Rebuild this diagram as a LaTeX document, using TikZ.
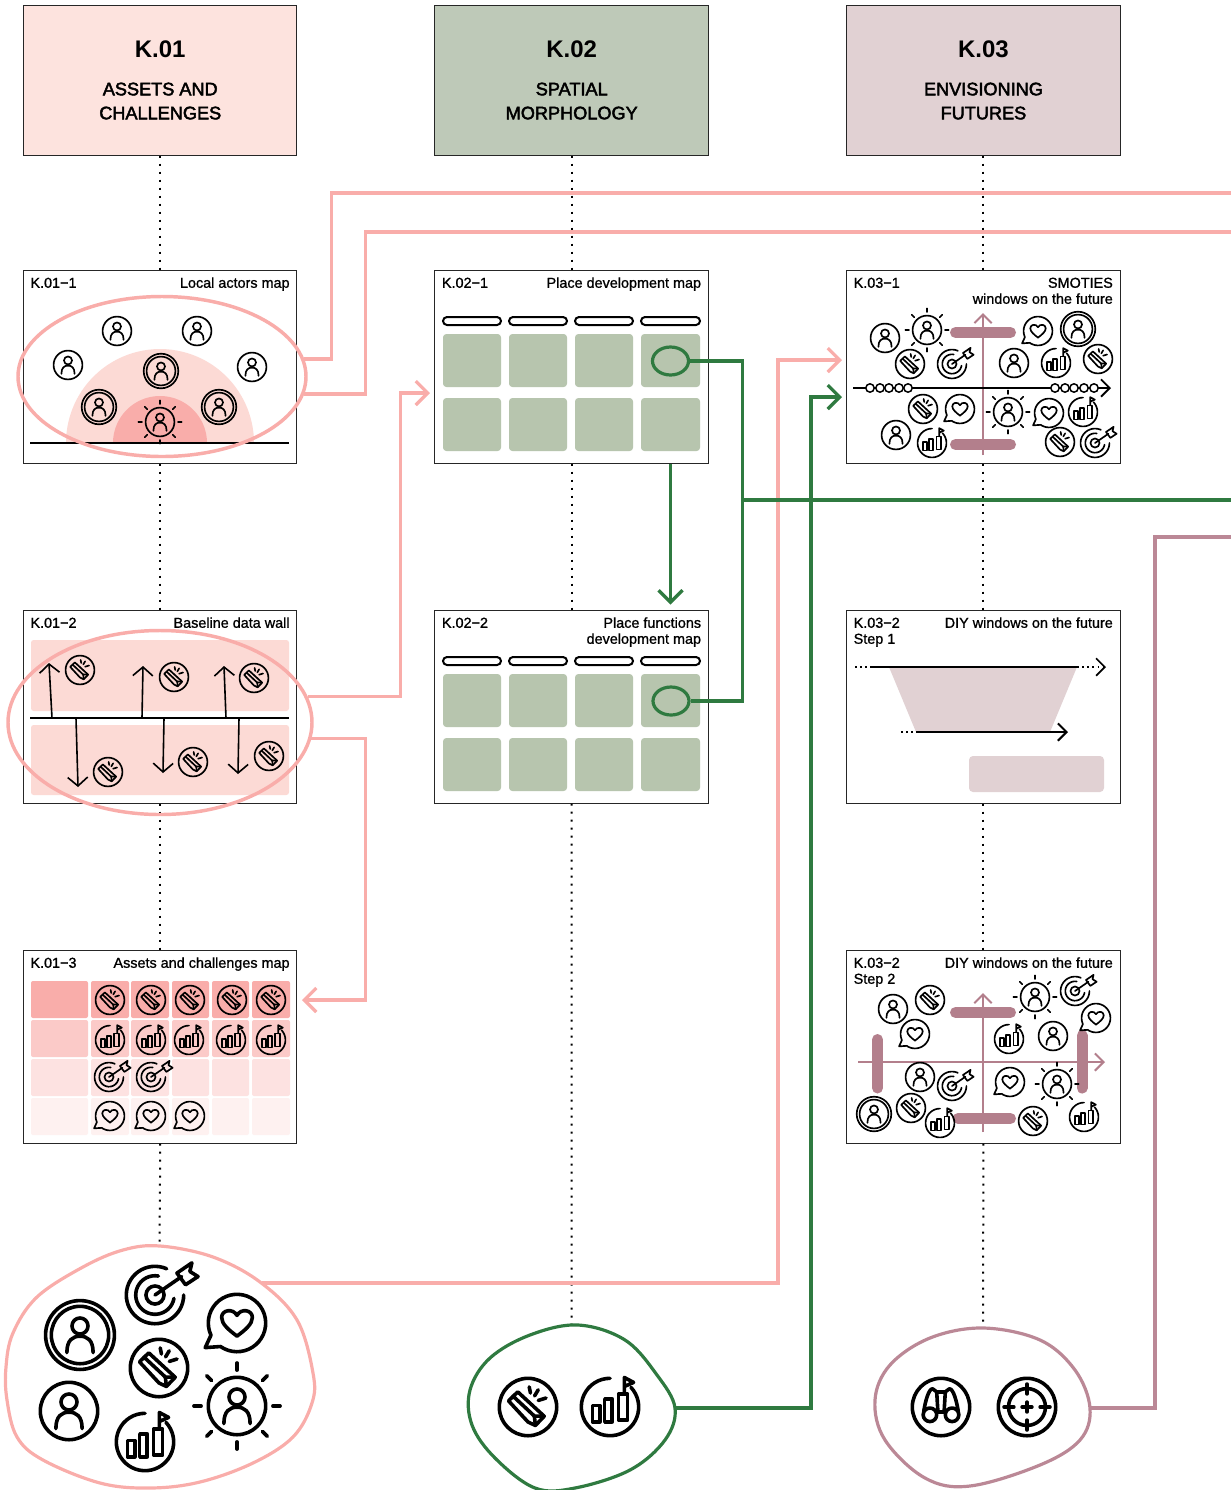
\documentclass[tikz,border=0pt]{standalone}
\usepackage{fontspec}
\setmainfont{Liberation Sans}
\newfontfamily\headfamily[FakeBold=2.5]{Liberation Sans}
\newfontfamily\cardfamily[FakeBold=1]{Liberation Sans}
\usetikzlibrary{arrows.meta, positioning, shapes.geometric}

\definecolor{assetpale}{HTML}{FDE3DE}
\definecolor{assetsoft}{HTML}{FCDAD5}
\definecolor{assetdeep}{HTML}{F9ADAA}
\definecolor{morphpale}{HTML}{BEC9B8}
\definecolor{morphcell}{HTML}{B7C5AE}
\definecolor{morphline}{HTML}{2F7A40}
\definecolor{futurepale}{HTML}{E1D1D3}
\definecolor{futureline}{HTML}{BB8896}
\definecolor{futurebar}{HTML}{B37F8C}

\newcommand{\headtag}[1]{{\rmfamily\bfseries\fontsize{18}{18}\selectfont #1}}
\newcommand{\iconset}[2]{\foreach \px/\py in {#2} {\pic[smallicon] at (\px,\py) {#1};}}
\newcommand{\cardlabels}[3]{%
  \node[cardid, below right=5.5pt and 5.4pt of #1.north west] (#1id) {\rule{0pt}{8pt}#2};
  \node[cardname, below left=5.5pt and 5.7pt of #1.north east] (#1name) {\rule{0pt}{8pt}#3};}
\newcommand{\personmark}{%
  \draw[iconline] (0,0) circle[radius=14];
  \draw[iconline] (0,-4.4) circle[radius=3.9];
  \draw[iconline] (-6.4,8.6) .. controls (-6.4,2.5) and (-3.6,0.6) .. (0,0.6) .. controls (3.6,0.6) and (6.4,2.5) .. (6.4,8.6);}

\begin{document}
\begin{tikzpicture}[
    x=0.75pt, y=-0.75pt,
    headbox/.style={
        draw=black!85,
        line width=0.75pt,
        minimum width=205.1pt,
        minimum height=112.5pt,
        align=center,
        font=\headfamily\fontsize{13.6}{18}\selectfont
    },
    cardbox/.style={
        draw=black!85,
        fill=white,
        line width=0.75pt,
        minimum width=205.1pt,
        minimum height=144.75pt
    },
    cardid/.style={inner sep=0pt, align=left, font=\cardfamily\fontsize{10.8}{12}\selectfont},
    cardname/.style={inner sep=0pt, align=right, font=\cardfamily\fontsize{10.8}{12}\selectfont},
    dotline/.style={line width=1.5pt, dash pattern=on 1.5pt off 4.5pt},
    pinkline/.style={draw=assetdeep, line width=2.4pt},
    greenline/.style={draw=morphline, line width=2.4pt},
    mauveline/.style={draw=futureline, line width=2.4pt},
    bigtip/.style={-{Straight Barb[length=9pt, width=18pt]}},
    smalltip/.style={-{Straight Barb[length=6.5pt, width=13pt]}},
    pinkoval/.style={ellipse, draw=assetdeep, line width=2.6pt, inner sep=0pt},
    greenspot/.style={ellipse, draw=morphline, line width=2.4pt, inner sep=0pt, minimum width=27pt, minimum height=21pt},
    groundline/.style={line width=1.9pt},
    thinarrow/.style={line width=1.2pt, -{Straight Barb[length=6.5pt, width=15pt]}},
    mauveaxis/.style={draw=futurebar, line width=1.5pt, smalltip},
    mauvebar/.style={draw=futurebar, line width=8.25pt, line cap=round},
    iconline/.style={line cap=round, line join=round},
    smallicon/.style={scale=1.03, line width=1.25pt},
    bigicon/.style={scale=2.05, line width=2.7pt},
    iconperson/.pic={\personmark},
    iconbold/.pic={
        \personmark
        \draw[iconline] (0,0) circle[radius=16.8];
    },
    iconsun/.pic={
        \personmark
        \foreach \ang in {0,45,...,315} {\draw[iconline] (\ang:17.5) -- (\ang:21);}
    },
    icongold/.pic={
        \draw[iconline] (0,0) circle[radius=14];
        \draw[iconline] (-9.5,-3) -- (-5,-7.4) -- (7.9,4.5) -- (3.6,9) -- (0,7.3) -- cycle;
        \draw[iconline] (-7.3,-5.3) -- (3.1,4.4) -- (7.9,4.5);
        \draw[iconline] (3.1,4.4) -- (3.6,9);
        \draw[iconline] (0.6,-9.8) -- (1.2,-6.8);
        \draw[iconline] (5,-8.4) -- (3.2,-5.4);
        \draw[iconline] (8.8,-4.4) -- (5,-3.2);
    },
    iconchart/.pic={
        \draw[iconline] plot[domain=-43:270, samples=40, smooth] ({14*cos(\x)},{14*sin(\x)});
        \draw[iconline] (-8.5,-0.8) rectangle (-5,7.2);
        \draw[iconline] (-2.6,-4) rectangle (1.1,7.2);
        \draw[iconline] (4.2,-6.4) rectangle (8.6,6.4);
        \draw[iconline] (7,-6.4) -- (7,-14.4) -- (11.5,-12) -- (7,-10);
    },
    icontarget/.pic={
        \draw[iconline] plot[domain=0:294, samples=40, smooth] ({14*cos(\x)},{14*sin(\x)});
        \draw[iconline] plot[domain=10:280, samples=30, smooth] ({9.4*cos(\x)},{9.4*sin(\x)});
        \draw[iconline] (0,0) circle[radius=4.4];
        \draw[iconline] (0,0) -- (13,-9);
        \draw[iconline] (10.7,-10.7) -- (18,-15.7) -- (17,-11.5) -- (21,-9) -- (14.9,-5) -- cycle;
    },
    iconheart/.pic={
        \draw[iconline] plot[domain=125:-205, samples=40, smooth] ({14*cos(\x)},{14*sin(\x)}) -- (-15.5,12) -- cycle;
        \draw[iconline] (0,6.4) .. controls (-4,3.4) and (-7.5,0.5) .. (-7.5,-2.7) .. controls (-7.5,-6.4) and (-2,-7.4) .. (0,-3.7) .. controls (2,-7.4) and (7.5,-6.4) .. (7.5,-2.7) .. controls (7.5,0.5) and (4,3.4) .. (0,6.4) -- cycle;
    },
    iconbino/.pic={
        \draw[iconline] (0,0) circle[radius=14];
        \draw[iconline] (-5.4,3.8) circle[radius=3.3];
        \draw[iconline] (5.4,3.8) circle[radius=3.3];
        \draw[iconline] (-8.4,2) .. controls (-7.6,-3) and (-6,-8.9) .. (-4.1,-8.9) -- (-2.1,-7.4) -- (-1.5,2.5);
        \draw[iconline] (8.4,2) .. controls (7.6,-3) and (6,-8.9) .. (4.1,-8.9) -- (2.1,-7.4) -- (1.5,2.5);
        \draw[iconline] (-2.1,-7.4) -- (2.1,-7.4);
        \draw[iconline] (-1.5,2.5) -- (1.5,2.5);
    },
    iconcross/.pic={
        \draw[iconline] (0,0) circle[radius=14];
        \draw[iconline] (0,0) circle[radius=9];
        \foreach \ang in {0,90,180,270} {\draw[iconline] (\ang:6.4) -- (\ang:11.2);}
        \draw[iconline] (-2.4,0) -- (2.4,0);
        \draw[iconline] (0,-2.4) -- (0,2.4);
    }
]
\useasboundingbox (0,0) rectangle (1231,1490);

\node[headbox, fill=assetpale] (k01) at (160.25,80) {\headtag{K.01}\\[10.5pt] ASSETS AND\\CHALLENGES};
\node[headbox, fill=morphpale, right=102.75pt of k01] (k02) {\headtag{K.02}\\[10.5pt] SPATIAL\\MORPHOLOGY};
\node[headbox, fill=futurepale, right=102.95pt of k02] (k03) {\headtag{K.03}\\[10.5pt] ENVISIONING\\FUTURES};

\node[cardbox, below=85.5pt of k01] (k011) {};
\node[cardbox, below=109.5pt of k011] (k012) {};
\node[cardbox, below=109.5pt of k012] (k013) {};
\node[cardbox, below=85.5pt of k02] (k021) {};
\node[cardbox, below=109.5pt of k021] (k022) {};
\node[cardbox, below=85.5pt of k03] (k031) {};
\node[cardbox, below=109.5pt of k031] (k032) {};
\node[cardbox, below=109.5pt of k032] (k033) {};

\cardlabels{k011}{K.01−1}{Local actors map}
\cardlabels{k012}{K.01−2}{Baseline data wall}
\cardlabels{k013}{K.01−3}{Assets and challenges map}
\cardlabels{k021}{K.02−1}{Place development map}
\cardlabels{k022}{K.02−2}{Place functions\\development map}
\cardlabels{k031}{K.03−1}{SMOTIES\\windows on the future}
\cardlabels{k032}{K.03−2\\Step 1}{DIY windows on the future}
\cardlabels{k033}{K.03−2\\Step 2}{DIY windows on the future}

\coordinate (assetblobout) at (262,1283);
\coordinate (assetblobtop) at (159.5,1246);
\coordinate (morphblobout) at (675,1408);
\coordinate (morphblobtop) at (571.5,1325);
\coordinate (futureblobout) at (1090,1408);
\coordinate (futureblobtop) at (983,1328);
\coordinate (k021in) at (430,393);
\coordinate (k013in) at (302,1000);
\coordinate (k031ina) at (842,360);
\coordinate (k031inb) at (842,397);
\coordinate (pinkexita) at (1231,193);
\coordinate (pinkexitb) at (1231,232);
\coordinate (greenjoin) at (743,500);
\coordinate (greenexit) at (1231,500);
\coordinate (mauveexit) at (1231,537);

\draw[dotline] (k01.south) -- (k011.north);
\draw[dotline] (k011.south) -- (k012.north);
\draw[dotline] (k012.south) -- (k013.north);
\draw[dotline] (k013.south) -- (assetblobtop);
\draw[dotline] (k02.south) -- (k021.north);
\draw[dotline] (k021.south) -- (k022.north);
\draw[dotline] (k022.south) -- (morphblobtop);
\draw[dotline] (k03.south) -- (k031.north);
\draw[dotline] (k031.south) -- (k032.north);
\draw[dotline] (k032.south) -- (k033.north);
\draw[dotline] (k033.south) -- (futureblobtop);

\fill[assetsoft] plot[domain=180:360, samples=60] ({160+94*cos(\x)},{443+94*sin(\x)}) -- cycle;
\fill[assetdeep] plot[domain=180:360, samples=60] ({160+47*cos(\x)},{443+47*sin(\x)}) -- cycle;
\draw[groundline] (30,443) -- (289,443);
\iconset{iconperson}{117/331,197/331,68/365,252/367}
\iconset{iconbold}{161/371,99/407,219/407}
\iconset{iconsun}{160/422}

\fill[assetsoft, rounded corners=2pt] (31,640) rectangle (289,711);
\fill[assetsoft, rounded corners=2pt] (31,725) rectangle (289,795);
\draw[groundline] (30,718) -- (289,718);
\foreach \ax/\bx/\ey in {52/49/663,142/143/666,226/224/666,76/78/787,164/163/773,239/238/774} {
    \draw[thinarrow] (\ax,718) -- (\bx,\ey);
}
\iconset{icongold}{80/670,174/677,254/678,108/772,193/762,269/756}

\foreach \ya/\yb/\tone in {981/1018/100,1020/1057/65,1059/1096/35,1098/1135/17} {
    \fill[assetdeep!\tone!white, rounded corners=1.5pt] (31,\ya) rectangle (88,\yb);
    \foreach \xa/\xb in {91/129,131/169,172/209,212/249,252/290} {
        \fill[assetdeep!\tone!white, rounded corners=1.5pt] (\xa,\ya) rectangle (\xb,\yb);
    }
}
\iconset{icongold}{110/1000,151/1000,190/1000,232/1000,271/1000}
\iconset{iconchart}{110/1040,151/1040,189/1040,231/1040,271/1040}
\iconset{icontarget}{109/1077,151/1077}
\iconset{iconheart}{110/1116,151/1116,190/1116}

\foreach \oy in {0,340} {
    \foreach \xa/\xb in {443/501,509/567,575/633,641/700} {
        \draw[line width=1.5pt, rounded corners=3pt] (\xa,317+\oy) rectangle (\xb,325+\oy);
        \fill[morphcell, rounded corners=2.5pt] (\xa,334+\oy) rectangle (\xb,387+\oy);
        \fill[morphcell, rounded corners=2.5pt] (\xa,398+\oy) rectangle (\xb,451+\oy);
    }
}
\node[greenspot] (k021spot) at (670.5,361) {};
\node[greenspot] (k022spot) at (671,701) {};

\draw[mauveaxis] (983,455) -- (983,313);
\draw[mauvebar] (955.5,332.5) -- (1010.5,332.5);
\draw[mauvebar] (955.5,444.5) -- (1010.5,444.5);
\draw[line width=1.4pt, smalltip] (853,388) -- (1111,388);
\foreach \cx in {870,880,889,899,908,1055,1065,1074,1084,1094} {
    \draw[line width=1.1pt, fill=white] (\cx,388) circle[radius=4.2];
}
\iconset{iconperson}{885/338,1014/363,896/435}
\iconset{iconsun}{927/330,1008/412}
\iconset{icongold}{910/364,1098/359,923/409,1060/442}
\iconset{icontarget}{952/364,1095/443}
\iconset{iconheart}{1038/331,960/409,1049/413}
\iconset{iconbold}{1078/329}
\iconset{iconchart}{1056/363,932/443,1083/412}

\fill[futurepale] (889,667) -- (1077,667) -- (1050,732) -- (916,732) -- cycle;
\fill[futurepale, rounded corners=3pt] (969,756) rectangle (1104,792);
\draw[line width=1.9pt] (870,667) -- (1079,667);
\draw[dotline, line width=1.3pt, dash pattern=on 1.3pt off 2.6pt] (855,667) -- (868,667);
\draw[dotline, line width=1.3pt, dash pattern=on 1.3pt off 2.6pt, smalltip] (1082,667) -- (1106,667);
\draw[line width=1.5pt, smalltip] (916,732) -- (1068,732);
\draw[dotline, line width=1.3pt, dash pattern=on 1.3pt off 2.6pt] (901,732) -- (914,732);

\draw[mauveaxis] (983,1132) -- (983,993);
\draw[mauveaxis] (858,1062) -- (1105,1062);
\draw[mauvebar] (955.5,1012.5) -- (1010.5,1012.5);
\draw[mauvebar] (958,1118.5) -- (1010.5,1118.5);
\draw[mauvebar] (877.5,1039.5) -- (877.5,1088);
\draw[mauvebar] (1082,1035.5) -- (1082,1088);
\iconset{iconperson}{893/1009,1053/1036,920/1077}
\iconset{icongold}{930/1000,911/1108,1033/1121}
\iconset{iconheart}{915/1034,1096/1018,1010/1082}
\iconset{iconsun}{1035/997,1057/1084}
\iconset{icontarget}{1075/991,952/1086}
\iconset{iconchart}{1009/1039,940/1123,1084/1117}
\iconset{iconbold}{874/1114}

\draw[pinkline] plot[smooth cycle, tension=0.6] coordinates {(160,1246) (213,1257) (260,1282) (297,1320) (313,1373) (312,1403) (293,1437) (253,1463) (200,1482) (150,1488) (100,1483) (43,1460) (17,1437) (7,1400) (6,1367) (13,1333) (37,1297) (83,1267) (123,1250)};
\pic[bigicon] at (80,1335) {iconbold};
\pic[bigicon] at (69,1411) {iconperson};
\pic[bigicon] at (155,1295) {icontarget};
\pic[bigicon] at (159,1368) {icongold};
\pic[bigicon] at (237,1323) {iconheart};
\pic[bigicon] at (237,1406) {iconsun};
\pic[bigicon] at (145,1442) {iconchart};

\draw[greenline] plot[smooth cycle, tension=0.6] coordinates {(578,1325) (625,1340) (657,1375) (675,1408) (665,1440) (630,1470) (575,1488) (535,1488) (495,1458) (472,1425) (470,1390) (490,1358) (530,1335)};
\pic[bigicon] at (528,1407) {icongold};
\pic[bigicon] at (610,1407) {iconchart};

\draw[mauveline] plot[smooth cycle, tension=0.6] coordinates {(983,1328) (1040,1340) (1075,1370) (1090,1408) (1080,1440) (1040,1465) (970,1486) (925,1478) (885,1440) (875,1400) (890,1365) (930,1338)};
\pic[bigicon] at (941,1407) {iconbino};
\pic[bigicon] at (1027,1407) {iconcross};

\node[pinkoval, minimum width=216pt, minimum height=120pt] (k011oval) at (162,376.5) {};
\node[pinkoval, minimum width=228pt, minimum height=138pt] (k012oval) at (160,722.5) {};

\draw[pinkline] (k011oval.7) -- ++(27,0) |- (pinkexita);
\draw[pinkline] (k011oval.-7) -- ++(61,0) |- (pinkexitb);
\draw[pinkline, bigtip] (k012oval.10) -- ++(93,0) |- (k021in);
\draw[pinkline, bigtip] (k012oval.-6) -- ++(54,0) |- (k013in);
\draw[pinkline, bigtip] (assetblobout) -- ++(516,0) |- (k031ina);
\draw[greenline] (k021spot.east) -- ++(52.5,0) |- (k022spot.east);
\draw[greenline] (greenjoin) -- (greenexit);
\draw[greenline, bigtip, shorten >=3.75pt] (k021spot |- k021.south) -- (k021spot |- k022.north);
\draw[greenline, bigtip] (morphblobout) -- ++(136,0) |- (k031inb);
\draw[mauveline] (futureblobout) -- ++(65,0) |- (mauveexit);
\end{tikzpicture}
\end{document}
